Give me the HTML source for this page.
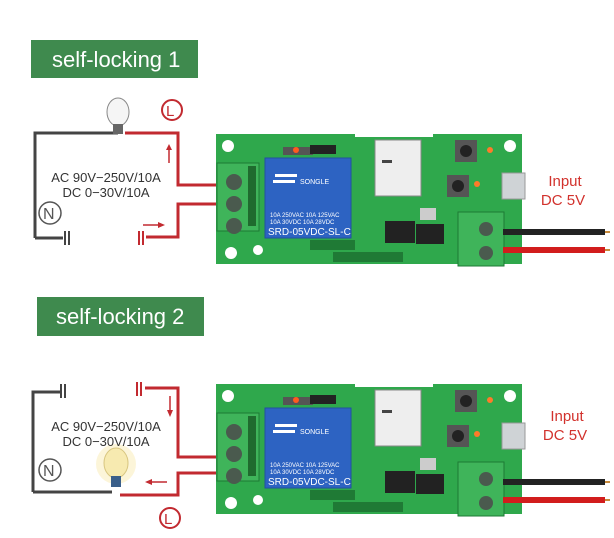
<!DOCTYPE html>
<html><head><meta charset="utf-8"><style>
body{margin:0;background:#fff;width:614px;height:538px;overflow:hidden}
svg{display:block}
text{font-family:"Liberation Sans",sans-serif}
</style></head><body>
<svg width="614" height="538" viewBox="0 0 614 538">
<defs>
<g id="board">
  <path d="M216 134 H355 V137 H433 V134 H522 V264 H216 Z" fill="#2fa84c"/>
  <circle cx="228" cy="146" r="6" fill="#fff"/>
  <circle cx="231" cy="253" r="6" fill="#fff"/>
  <circle cx="510" cy="146" r="6" fill="#fff"/>
  <circle cx="258" cy="250" r="5" fill="#fff"/>
  <rect x="217" y="163" width="42" height="68" fill="#3fb45a" stroke="#1e7a34"/>
  <rect x="248" y="166" width="8" height="60" fill="#1f6b2e"/>
  <circle cx="234" cy="182" r="8" fill="#4a5a4e"/><circle cx="234" cy="204" r="8" fill="#4a5a4e"/><circle cx="234" cy="226" r="8" fill="#4a5a4e"/>
  <rect x="265" y="158" width="86" height="80" fill="#2d63c2" stroke="#2250a0"/>
  <text x="270" y="217" font-size="6" fill="#fff">10A 250VAC 10A 125VAC</text>
  <text x="270" y="224" font-size="6" fill="#fff">10A 30VDC 10A 28VDC</text>
  <text x="268" y="235" font-size="10" fill="#fff">SRD-05VDC-SL-C</text>
  <text x="300" y="184" font-size="7" fill="#fff">SONGLE</text>
  <rect x="275" y="174" width="22" height="3" fill="#fff"/><rect x="273" y="180" width="22" height="3" fill="#fff"/>
  <rect x="283" y="147" width="30" height="8" fill="#555"/>
  <circle cx="296" cy="150" r="3" fill="#ff5a1e"/>
  <rect x="310" y="145" width="26" height="9" fill="#222"/>
  <rect x="375" y="140" width="46" height="56" fill="#eee" stroke="#888"/>
  <rect x="382" y="160" width="10" height="3" fill="#444"/>
  <rect x="385" y="221" width="30" height="22" fill="#222"/>
  <rect x="416" y="224" width="28" height="20" fill="#222"/>
  <rect x="420" y="208" width="16" height="12" fill="#ccc"/>
  <rect x="455" y="140" width="22" height="22" fill="#555"/><circle cx="466" cy="151" r="6" fill="#222"/>
  <rect x="447" y="175" width="22" height="22" fill="#555"/><circle cx="458" cy="186" r="6" fill="#222"/>
  <circle cx="490" cy="150" r="3" fill="#ff7a2a"/><circle cx="477" cy="184" r="3" fill="#ff7a2a"/>
  <rect x="502" y="173" width="23" height="26" fill="#cfd3d6" stroke="#999"/>
  <rect x="310" y="240" width="45" height="10" fill="#1f7a35"/>
  <rect x="333" y="252" width="70" height="10" fill="#1f7a35"/>
  <rect x="458" y="212" width="46" height="54" fill="#3fb45a" stroke="#1e7a34"/>
  <circle cx="486" cy="229" r="7" fill="#4a5a4e"/><circle cx="486" cy="253" r="7" fill="#4a5a4e"/>
  <rect x="503" y="229" width="102" height="6" fill="#222"/><rect x="605" y="231" width="5" height="2" fill="#c98a3a"/>
  <rect x="503" y="247" width="102" height="6" fill="#d21d1d"/><rect x="605" y="249" width="5" height="2" fill="#c98a3a"/>
</g>
</defs>

<!-- Diagram 1 -->
<rect x="31" y="40" width="167" height="38" fill="#3f8a4e"/>
<text x="52" y="67" font-size="22" fill="#fff">self-locking 1</text>
<path d="M35 238 V133 H118" fill="none" stroke="#444" stroke-width="3"/>
<path d="M35 238 H63" fill="none" stroke="#444" stroke-width="3"/>
<rect x="64" y="231" width="2" height="14" fill="#444"/><rect x="68" y="231" width="2" height="14" fill="#444"/>
<path d="M125 133 H178 V185 H217 M217 204 H178 V237 H146" fill="none" stroke="#c22a30" stroke-width="3"/>
<rect x="138" y="231" width="2" height="14" fill="#c22a30"/><rect x="142" y="231" width="2" height="14" fill="#c22a30"/>
<ellipse cx="118" cy="112" rx="11" ry="14" fill="#f5f5f5" stroke="#888"/>
<rect x="113" y="124" width="10" height="10" fill="#666"/>
<circle cx="172" cy="110" r="10" fill="none" stroke="#c22a30" stroke-width="2"/>
<text x="166" y="116" font-size="15" fill="#c22a30">L</text>
<circle cx="50" cy="213" r="11" fill="none" stroke="#555" stroke-width="1.5"/>
<text x="43" y="219" font-size="16" fill="#555">N</text>
<path d="M169 163 V148" stroke="#c22a30" stroke-width="1.5"/><path d="M166 150 L169 144 L172 150Z" fill="#c22a30"/>
<path d="M143 225 H160" stroke="#c22a30" stroke-width="1.5"/><path d="M158 222 L165 225 L158 228Z" fill="#c22a30"/>
<text x="106" y="182" font-size="13" fill="#333" text-anchor="middle">AC 90V−250V/10A</text>
<text x="106" y="197" font-size="13" fill="#333" text-anchor="middle">DC 0−30V/10A</text>
<use href="#board"/>
<text x="565" y="186" font-size="15" fill="#d2322d" text-anchor="middle">Input</text>
<text x="563" y="205" font-size="15" fill="#d2322d" text-anchor="middle">DC 5V</text>

<!-- Diagram 2 -->
<rect x="37" y="297" width="167" height="39" fill="#3f8a4e"/>
<text x="56" y="324" font-size="22" fill="#fff">self-locking 2</text>
<path d="M33 492 V392 H60 M33 492 H112" fill="none" stroke="#444" stroke-width="3"/>
<rect x="60" y="384" width="2" height="14" fill="#444"/><rect x="64" y="384" width="2" height="14" fill="#444"/>
<path d="M145 388 H178 V457 H217 M217 473 H178 V495 H120" fill="none" stroke="#c22a30" stroke-width="3"/>
<rect x="136" y="382" width="2" height="14" fill="#c22a30"/><rect x="140" y="382" width="2" height="14" fill="#c22a30"/>
<circle cx="116" cy="464" r="20" fill="#fbf3cf" opacity="0.8"/>
<ellipse cx="116" cy="463" rx="12" ry="15" fill="#f7eab0" stroke="#d8c680"/>
<rect x="111" y="476" width="10" height="11" fill="#3a5f8a"/>
<circle cx="170" cy="518" r="10" fill="none" stroke="#c22a30" stroke-width="2"/>
<text x="164" y="524" font-size="15" fill="#c22a30">L</text>
<circle cx="50" cy="470" r="11" fill="none" stroke="#555" stroke-width="1.5"/>
<text x="43" y="476" font-size="16" fill="#555">N</text>
<path d="M170 396 V412" stroke="#c22a30" stroke-width="1.5"/><path d="M167 410 L170 417 L173 410Z" fill="#c22a30"/>
<path d="M150 482 H167" stroke="#c22a30" stroke-width="1.5"/><path d="M152 479 L145 482 L152 485Z" fill="#c22a30"/>
<text x="106" y="431" font-size="13" fill="#333" text-anchor="middle">AC 90V−250V/10A</text>
<text x="106" y="446" font-size="13" fill="#333" text-anchor="middle">DC 0−30V/10A</text>
<use href="#board" transform="translate(0,250)"/>
<text x="567" y="421" font-size="15" fill="#d2322d" text-anchor="middle">Input</text>
<text x="565" y="440" font-size="15" fill="#d2322d" text-anchor="middle">DC 5V</text>
</svg>
</body></html>
